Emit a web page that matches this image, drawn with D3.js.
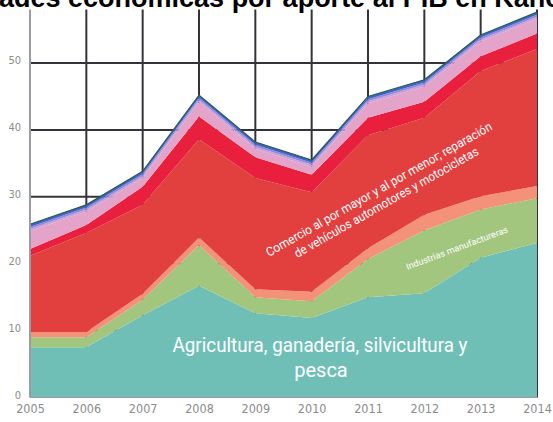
<!DOCTYPE html>
<html>
<head>
<meta charset="utf-8">
<script src="https://cdn.jsdelivr.net/npm/d3@7/dist/d3.min.js"></script>
<style>
  html, body { margin: 0; padding: 0; background: #ffffff; overflow: hidden; }
  svg { display: block; }
</style>
</head>
<body>
<svg id="chart" width="553" height="422"></svg>
<script>
// Years on the horizontal axis
const years = [2005, 2006, 2007, 2008, 2009, 2010, 2011, 2012, 2013, 2014];

// Contribution of each activity (stacked from the bottom)
const agricultura   = [7.5, 7.5, 12.3, 16.7, 12.6, 11.9, 15.0, 15.6, 20.9, 23.1];
const industrias    = [1.5, 1.5, 2.3, 6.1, 2.4, 2.5, 5.7, 9.4, 7.2, 6.7];
const construccion  = [0.8, 0.8, 0.9, 1.1, 1.2, 1.4, 1.6, 2.3, 2.0, 1.8];
const comercio      = [11.4, 14.8, 13.3, 14.7, 16.6, 14.9, 16.9, 14.5, 18.7, 20.5];
const transporte    = [1.0, 1.2, 2.7, 3.4, 3.1, 2.6, 2.6, 2.4, 2.2, 2.3];
const servicios     = [2.7, 2.0, 1.3, 2.2, 1.3, 1.2, 2.2, 2.3, 2.2, 2.2];
const financieras   = [0.3, 0.3, 0.3, 0.3, 0.3, 0.3, 0.3, 0.3, 0.3, 0.3];
const inmobiliarias = [0.3, 0.3, 0.3, 0.3, 0.3, 0.3, 0.3, 0.3, 0.3, 0.3];
const otros         = [0.4, 0.4, 0.4, 0.4, 0.4, 0.4, 0.4, 0.4, 0.4, 0.4];

const yTicks = [0, 10, 20, 30, 40, 50];

const seriesNames = ["agricultura", "industrias", "construccion", "comercio", "transporte",
                     "servicios", "financieras", "inmobiliarias", "otros"];
const seriesValues = [agricultura, industrias, construccion, comercio, transporte,
                      servicios, financieras, inmobiliarias, otros];
const seriesColors = ["#6fbfb7", "#a3c67f", "#f39179", "#e2403f", "#e81f3d",
                      "#e4a3c8", "#c8a2d9", "#9a86d6", "#3d66cc"];

const rows = years.map((yr, i) => {
  const r = { year: yr };
  seriesNames.forEach((k, j) => { r[k] = seriesValues[j][i]; });
  return r;
});

const svg = d3.select("#chart");

const x = d3.scaleLinear().domain([2005, 2014]).range([30, 537]);
const y = d3.scaleLinear().domain([0, 58]).range([397.5, 9.5]);

// Grid
const grid = svg.append("g");
grid.selectAll("line.v")
  .data(years.slice(1))
  .join("line")
  .attr("x1", d => x(d)).attr("x2", d => x(d))
  .attr("y1", y(58)).attr("y2", y(0))
  .attr("stroke", "#33333a").attr("stroke-width", 2);
grid.selectAll("line.h")
  .data(yTicks.slice(1))
  .join("line")
  .attr("x1", x(2005)).attr("x2", x(2014))
  .attr("y1", d => y(d)).attr("y2", d => y(d))
  .attr("stroke", "#33333a").attr("stroke-width", 2);

// Stacked areas
const stack = d3.stack().keys(seriesNames);
const layers = stack(rows);
const area = d3.area()
  .x(d => x(d.data.year))
  .y0(d => y(d[0]))
  .y1(d => y(d[1]));

svg.append("g").selectAll("path")
  .data(layers)
  .join("path")
  .attr("d", area)
  .attr("fill", (d, i) => seriesColors[i]);

// Dark outline along the top of the stack
const topLine = d3.line()
  .x(d => x(d.data.year))
  .y(d => y(d[1]));
svg.append("path")
  .datum(layers[layers.length - 1])
  .attr("d", topLine)
  .attr("fill", "none")
  .attr("stroke", "#2c5a48")
  .attr("stroke-width", 1.2);

// Axis lines
svg.append("line")
  .attr("x1", x(2005)).attr("x2", x(2005))
  .attr("y1", y(58)).attr("y2", y(0))
  .attr("stroke", "#9b9ba3").attr("stroke-width", 2);
svg.append("line")
  .attr("x1", x(2005)).attr("x2", x(2014))
  .attr("y1", y(0)).attr("y2", y(0))
  .attr("stroke", "#9b9ba3").attr("stroke-width", 1);

// Axes labels
const yAxis = d3.axisLeft(y).tickValues(yTicks).tickSize(0).tickPadding(9);
const gy = svg.append("g").attr("transform", `translate(${x(2005)},-3)`).call(yAxis);
gy.select(".domain").remove();
gy.selectAll("text")
  .attr("font-family", "DejaVu Sans Condensed, DejaVu Sans")
  .attr("font-size", 11).attr("fill", "#8c8c8c");

const xAxis = d3.axisBottom(x).tickValues(years).tickFormat(d3.format("d")).tickSize(0).tickPadding(7);
const gx = svg.append("g").attr("transform", `translate(0,${y(0)})`).call(xAxis);
gx.select(".domain").remove();
gx.selectAll("text")
  .attr("font-family", "DejaVu Sans Condensed, DejaVu Sans")
  .attr("font-size", 12.5).attr("fill", "#8c8c8c");

// Series labels inside the areas
const lab = svg.append("g").attr("fill", "#ffffff").attr("font-family", "Roboto");
lab.append("text")
  .attr("x", 320).attr("y", 352).attr("text-anchor", "middle")
  .attr("font-size", 20).attr("textLength", 295).attr("lengthAdjust", "spacingAndGlyphs")
  .text("Agricultura, ganadería, silvicultura y");
lab.append("text")
  .attr("x", 321).attr("y", 377).attr("text-anchor", "middle")
  .attr("font-size", 20)
  .text("pesca");

const com = lab.append("g").attr("transform", "translate(381,193) rotate(-29.7)");
com.append("text")
  .attr("x", 0).attr("y", 0).attr("text-anchor", "middle")
  .attr("font-size", 12.5).attr("textLength", 258).attr("lengthAdjust", "spacingAndGlyphs")
  .text("Comercio al por mayor y al por menor; reparación");
com.append("text")
  .attr("x", 0).attr("y", 15).attr("text-anchor", "middle")
  .attr("font-size", 12.5).attr("textLength", 210).attr("lengthAdjust", "spacingAndGlyphs")
  .text("de vehículos automotores y motocicletas");

lab.append("text")
  .attr("transform", "translate(458,251) rotate(-20.5)")
  .attr("text-anchor", "middle")
  .attr("font-size", 9).attr("textLength", 108).attr("lengthAdjust", "spacingAndGlyphs")
  .text("Industrias manufactureras");

// Title (wider than the frame, clipped at the edges)
svg.append("text")
  .attr("x", -91).attr("y", 7)
  .attr("font-family", "Liberation Sans, Arial, sans-serif")
  .attr("font-weight", "bold").attr("font-size", 27).attr("fill", "#000")
  .text("Actividades económicas por aporte al PIB en Kano");
</script>
</body>
</html>
